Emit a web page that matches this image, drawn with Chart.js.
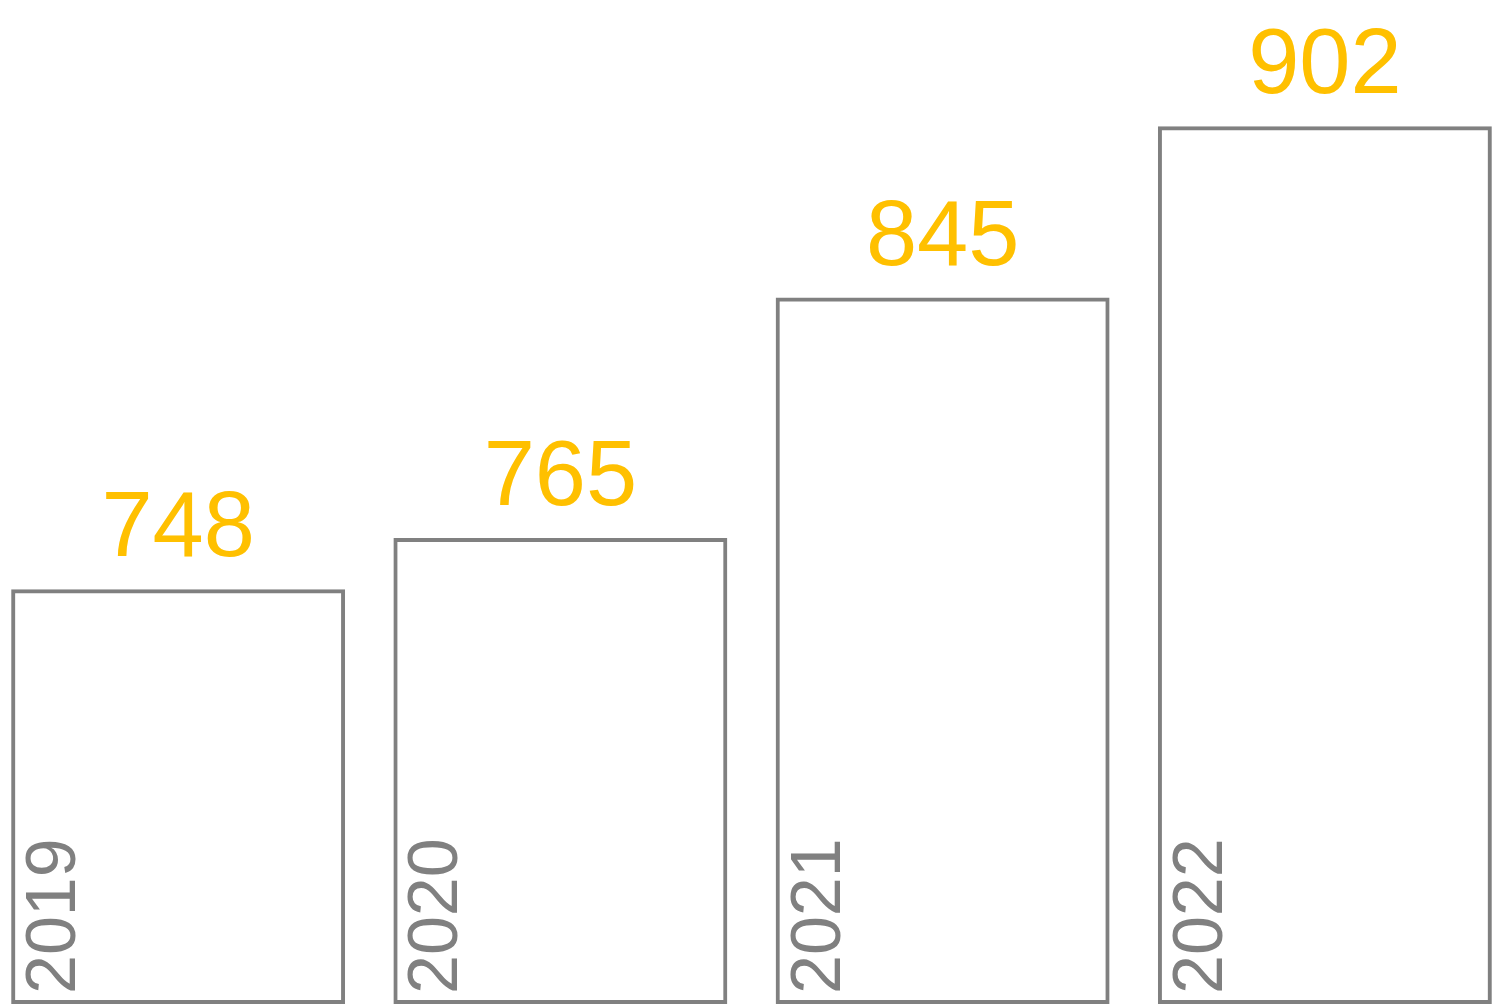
<!DOCTYPE html>
<html>
<head>
<meta charset="utf-8">
<script src="https://cdn.jsdelivr.net/npm/chart.js@4/dist/chart.umd.min.js"></script>
<style>
  html, body { margin: 0; padding: 0; background: #ffffff; overflow: hidden; }
  #c { position: absolute; left: -13px; top: 0; display: block; }
</style>
</head>
<body>
<canvas id="c" width="1529" height="1005"></canvas>
<script>
const categories = ["2019", "2020", "2021", "2022"];
const values = [748, 765, 845, 902];
const yMin = 610;
const yMax = 944;

const labelPlugin = {
  id: 'labels',
  afterDatasetsDraw(chart) {
    const ctx = chart.ctx;
    const meta = chart.getDatasetMeta(0);
    meta.data.forEach((bar, i) => {
      const w = bar.width;
      const left = bar.x - w / 2;
      ctx.save();
      ctx.fillStyle = '#FFC000';
      ctx.font = '92px "Liberation Sans", Arial, sans-serif';
      ctx.textAlign = 'center';
      ctx.textBaseline = 'alphabetic';
      ctx.fillText(String(values[i]), bar.x, bar.y - 33);
      ctx.restore();

      ctx.save();
      ctx.translate(left + 64, bar.base - 10);
      ctx.rotate(-Math.PI / 2);
      ctx.fillStyle = '#808080';
      ctx.font = '70px "Liberation Sans", Arial, sans-serif';
      ctx.textAlign = 'left';
      ctx.textBaseline = 'alphabetic';
      ctx.fillText(categories[i], 0, 0);
      ctx.restore();
    });
  }
};

new Chart(document.getElementById('c'), {
  type: 'bar',
  data: {
    labels: categories,
    datasets: [{
      data: values,
      base: yMin,
      backgroundColor: 'rgba(0,0,0,0)',
      borderColor: '#808080',
      borderWidth: 4,
      borderSkipped: false,
      inflateAmount: 0,
      categoryPercentage: 0.8736,
      barPercentage: 1.0
    }]
  },
  options: {
    responsive: false,
    animation: false,
    layout: { padding: { top: 0, bottom: 1, left: 0, right: 0 } },
    plugins: { legend: { display: false }, tooltip: { enabled: false } },
    scales: {
      x: { display: false, offset: true },
      y: { display: false, min: yMin, max: yMax }
    }
  },
  plugins: [labelPlugin]
});
</script>
</body>
</html>
